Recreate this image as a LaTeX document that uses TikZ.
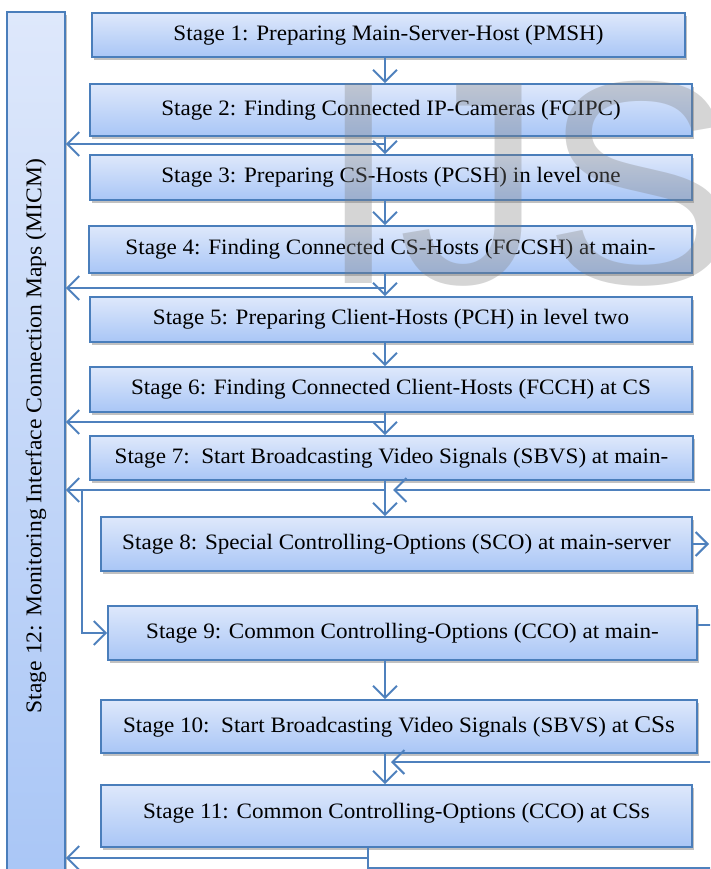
\documentclass[tikz,border=0pt]{standalone}
\usepackage{fontspec}
\setmainfont[FakeStretch=1.05]{Liberation Serif}
\newfontfamily\wmfont{Liberation Sans}
\usetikzlibrary{arrows.meta,shadows,calc}
\definecolor{boxblue}{HTML}{4A7EBB}
\definecolor{arrblue}{HTML}{4F81BD}
\definecolor{topc}{HTML}{DEE8FB}
\definecolor{botc}{HTML}{A9C6F6}
\tikzset{
  stagebox/.style={draw=boxblue, line width=1.6pt, top color=topc, bottom color=botc,
    inner sep=0pt, align=center, font=\fontsize{22}{24}\selectfont,
    drop shadow={shadow xshift=2pt, shadow yshift=-3pt, opacity=0.35, fill=black!70}},
  arr/.style={draw=arrblue, line width=2pt, -{Straight Barb[length=12pt,width=24pt]}},
  conn/.style={draw=arrblue, line width=2pt}
}
\begin{document}
\begin{tikzpicture}[x=1pt,y=-1pt]
\useasboundingbox (0,0) rectangle (710,869);
\clip (0,0) rectangle (710,869);
% Stage 12 (tall box at left)
\node[stagebox, minimum width=58pt, minimum height=870pt] (s12) at (36,447) {};
\node[rotate=90, font=\fontsize{22.5}{24}\selectfont, inner sep=0pt] (s12t) at (36,436)
  {Stage 12: Monitoring Interface Connection Maps (MICM)};
% Stages 1--11
\node[stagebox, minimum width=593pt, minimum height=44pt] (s1) at (388.5,35) {Stage 1: Preparing Main-Server-Host (PMSH)};
\node[stagebox, minimum width=602pt, minimum height=52pt] (s2) at (391,110) {Stage 2: Finding Connected IP-Cameras (FCIPC)};
\node[stagebox, minimum width=602pt, minimum height=45pt] (s3) at (391,177.5) {Stage 3: Preparing CS-Hosts (PCSH) in level one};
\node[stagebox, minimum width=603pt, minimum height=47pt] (s4) at (390.5,249.5) {Stage 4: Finding Connected CS-Hosts (FCCSH) at main-};
\node[stagebox, minimum width=602pt, minimum height=45pt] (s5) at (391,319.5) {Stage 5: Preparing Client-Hosts (PCH) in level two};
\node[stagebox, minimum width=602pt, minimum height=45pt] (s6) at (391,389.5) {Stage 6: Finding Connected Client-Hosts (FCCH) at CS};
\node[stagebox, minimum width=603pt, minimum height=44pt] (s7) at (391.5,458) {Stage 7:\ \ Start Broadcasting Video Signals (SBVS) at main-};
\node[stagebox, minimum width=591pt, minimum height=54pt] (s8) at (396.5,544) {Stage 8: Special Controlling-Options (SCO) at main-server};
\node[stagebox, minimum width=589pt, minimum height=54pt] (s9) at (402.5,633) {Stage 9: Common Controlling-Options (CCO) at main-};
\node[stagebox, minimum width=596pt, minimum height=53pt] (s10) at (399,726.5) {Stage 10:\ \ Start Broadcasting Video Signals (SBVS) at {\fontsize{24}{24}\selectfont CSs}};
\node[stagebox, minimum width=591pt, minimum height=62pt, text depth=11pt] (s11) at (396.5,816) {Stage 11: Common Controlling-Options (CCO) at CSs};
% helper coordinates
\coordinate (ax) at (385,0);
\coordinate (f2) at (385,144);
\coordinate (f4) at (385,288);
\coordinate (f6) at (385,422);
\coordinate (f7) at (385,490);
\coordinate (j7) at (82,490);
\coordinate (r7) at (715,490);
\coordinate (t7) at (393,490);
\coordinate (r8) at (709,0);
\coordinate (r9) at (715,625);
\coordinate (r10) at (715,762);
\coordinate (t10) at (391,762);
\coordinate (b11) at (368,875);
\coordinate (l11) at (368,858);
\coordinate (rb) at (715,868);
% down arrows
\draw[arr] (s1.south -| ax) -- (s2.north -| ax);
\draw[arr] (s2.south -| ax) -- (s3.north -| ax);
\draw[arr] (s3.south -| ax) -- (s4.north -| ax);
\draw[arr] (s4.south -| ax) -- (s5.north -| ax);
\draw[arr] (s5.south -| ax) -- (s6.north -| ax);
\draw[arr] (s6.south -| ax) -- (s7.north -| ax);
\draw[arr] (s7.south -| ax) -- (s8.north -| ax);
\draw[arr] (s9.south -| ax) -- (s10.north -| ax);
\draw[arr] (s10.south -| ax) -- (s11.north -| ax);
% feedback to stage 12
\draw[arr] (f2) -- (f2 -| s12.east);
\draw[arr] (f4) -- (f4 -| s12.east);
\draw[arr] (f6) -- (f6 -| s12.east);
\draw[arr] (f7) -- (f7 -| s12.east);
\draw[arr] (j7) |- (s9.west);
% right-hand loops
\draw[arr] (r7) -- (t7);
\draw[arr] (s8.east) -- (s8.east -| r8);
\draw[conn] (r9 -| s9.east) -- (r9);
\draw[arr] (r10) -- (t10);
% bottom of stage 11
\draw[conn] (s11.south -| b11) -- (b11);
\draw[arr] (l11) -- (l11 -| s12.east);
\draw[conn] (rb -| b11) -- (rb);
% watermark
\node[font=\wmfont\fontsize{290}{290}\selectfont, text=gray, opacity=0.33, anchor=base west, inner sep=0pt] (wm) at (318,283) {IJS};
\end{tikzpicture}
\end{document}
